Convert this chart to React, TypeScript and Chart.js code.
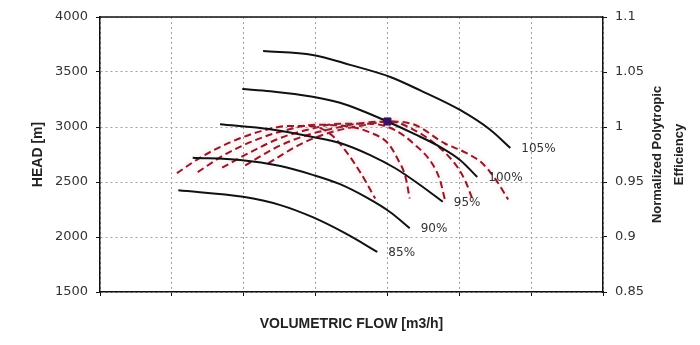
import React, { useEffect, useRef } from 'react';
import { Chart, registerables } from 'chart.js';

Chart.register(...registerables);

// ---- axis ticks ----
const flowTicks = [0, 1, 2, 3, 4, 5, 6, 7];
const headTicks = [1500, 2000, 2500, 3000, 3500, 4000];
const effTicks = [0.85, 0.9, 0.95, 1, 1.05, 1.1];

// ---- speed lines (head vs flow) ----
const speedLabels = ['85%', '90%', '95%', '100%', '105%'];

const flow85 = [1.09, 1.99, 2.51, 2.96, 3.41, 3.86];
const head85 = [2425, 2365, 2290, 2180, 2035, 1865];

const flow90 = [1.29, 1.95, 2.51, 2.96, 3.34, 3.72, 4.04, 4.31];
const head90 = [2720, 2700, 2645, 2565, 2480, 2355, 2225, 2080];

const flow95 = [1.67, 2.37, 2.96, 3.34, 3.76, 4.11, 4.45, 4.77];
const head95 = [3025, 2980, 2910, 2855, 2745, 2625, 2475, 2320];

const flow100 = [1.98, 2.37, 2.96, 3.34, 3.62, 4.0, 4.38, 4.73, 5.01, 5.25];
const head100 = [3345, 3325, 3275, 3220, 3155, 3050, 2935, 2820, 2700, 2545];

const flow105 = [2.27, 2.96, 3.48, 4.04, 4.45, 5.01, 5.43, 5.71];
const head105 = [3690, 3655, 3565, 3455, 3335, 3155, 2975, 2810];

// ---- normalized polytropic efficiency vs flow ----
const effFlow85 = [1.07, 1.39, 1.81, 2.23, 2.64, 2.92, 3.2, 3.41, 3.62, 3.83];
const eff85 = [0.958, 0.972, 0.986, 0.996, 1.001, 1.001, 0.994, 0.979, 0.959, 0.935];

const effFlow90 = [1.36, 1.74, 2.16, 2.58, 2.99, 3.41, 3.76, 4.01, 4.15, 4.25, 4.31];
const eff90 = [0.959, 0.975, 0.988, 0.997, 1.002, 1.001, 0.995, 0.985, 0.97, 0.955, 0.935];

const effFlow95 = [1.7, 2.09, 2.51, 2.92, 3.34, 3.76, 4.11, 4.38, 4.62, 4.73, 4.8];
const eff95 = [0.963, 0.977, 0.99, 0.998, 1.003, 1.003, 0.997, 0.984, 0.967, 0.952, 0.934];

const effFlow100 = [2.02, 2.44, 2.85, 3.27, 3.69, 4.04, 4.38, 4.73, 4.98, 5.09, 5.18];
const eff100 = [0.965, 0.981, 0.992, 0.999, 1.004, 1.005, 0.997, 0.981, 0.963, 0.95, 0.935];

const effFlow105 = [2.34, 2.78, 3.2, 3.62, 4.04, 4.38, 4.8, 5.08, 5.32, 5.51, 5.68];
const eff105 = [0.967, 0.984, 0.995, 1.001, 1.005, 1.002, 0.985, 0.977, 0.967, 0.952, 0.934];

// ---- design point ----
const bepFlow = [4.0];
const bepHead = [3050];

const headCurves = [
  [flow85, head85],
  [flow90, head90],
  [flow95, head95],
  [flow100, head100],
  [flow105, head105],
];
const effCurves = [
  [effFlow85, eff85],
  [effFlow90, eff90],
  [effFlow95, eff95],
  [effFlow100, eff100],
  [effFlow105, eff105],
];

const zip = (xs: number[], ys: number[]) => xs.map((x, i) => ({ x, y: ys[i] }));

const TITLE_FONT = '"Liberation Sans", Arial, sans-serif';
const TICK_FONT = '"DejaVu Sans", Verdana, sans-serif';

const decorPlugin = {
  id: 'decor',
  beforeDatasetDraw(chart: any, args: any) {
    const ds = chart.data.datasets[args.index];
    if (ds.isEff) {
      const ctx = chart.ctx;
      ctx.save();
      ctx.shadowColor = 'rgba(230, 120, 140, 0.45)';
      ctx.shadowBlur = 5;
    }
  },
  afterDatasetDraw(chart: any, args: any) {
    const ds = chart.data.datasets[args.index];
    if (ds.isEff) chart.ctx.restore();
  },
  afterDraw(chart: any) {
    const { ctx, chartArea, scales } = chart;
    ctx.save();
    // top frame line
    ctx.strokeStyle = '#111';
    ctx.lineWidth = 1.5;
    ctx.beginPath();
    ctx.moveTo(chartArea.left, chartArea.top);
    ctx.lineTo(chartArea.right, chartArea.top);
    ctx.stroke();

    // speed labels at curve ends
    ctx.fillStyle = '#333';
    ctx.font = '12px ' + TICK_FONT;
    ctx.textAlign = 'left';
    ctx.textBaseline = 'middle';
    headCurves.forEach(([xs, ys], i) => {
      const n = xs.length - 1;
      const px = scales.x.getPixelForValue(xs[n]) + 11;
      const py = scales.y.getPixelForValue(ys[n]) + 1;
      ctx.fillText(speedLabels[i], px, py);
    });

    // right axis title (two lines, reading upwards)
    ctx.fillStyle = '#222';
    ctx.font = 'bold 13px ' + TITLE_FONT;
    ctx.textAlign = 'center';
    ctx.textBaseline = 'middle';
    const cy = (chartArea.top + chartArea.bottom) / 2;
    const lines = ['Normalized Polytropic', 'Efficiency'];
    const xs = [657, 679];
    lines.forEach((t, i) => {
      ctx.save();
      ctx.translate(xs[i], cy);
      ctx.rotate(-Math.PI / 2);
      ctx.fillText(t, 0, 0);
      ctx.restore();
    });
    ctx.restore();
  },
};

export default function App() {
  const canvasRef = useRef<HTMLCanvasElement | null>(null);

  useEffect(() => {
    document.body.style.margin = '0';
    const canvas = canvasRef.current;
    if (!canvas) return;

    const datasets: any[] = [];
    effCurves.forEach(([xs, ys], i) => {
      datasets.push({
        label: 'Efficiency ' + speedLabels[i],
        data: zip(xs, ys),
        yAxisID: 'y2',
        borderColor: '#8c1c2c',
        borderWidth: 2,
        borderDash: [7, 4],
        pointRadius: 0,
        showLine: true,
        cubicInterpolationMode: 'monotone',
        fill: false,
        order: 2,
        isEff: true,
      });
    });
    headCurves.forEach(([xs, ys], i) => {
      datasets.push({
        label: 'Head ' + speedLabels[i],
        data: zip(xs, ys),
        yAxisID: 'y',
        borderColor: '#111',
        borderWidth: 2,
        pointRadius: 0,
        showLine: true,
        cubicInterpolationMode: 'monotone',
        fill: false,
        order: 1,
      });
    });
    datasets.push({
      label: 'Design point',
      data: zip(bepFlow, bepHead),
      yAxisID: 'y',
      showLine: false,
      pointStyle: 'rect',
      pointRadius: 5,
      backgroundColor: '#3a1060',
      borderColor: '#3a1060',
      borderWidth: 1,
      order: 0,
    });

    const chart = new Chart(canvas, {
      type: 'scatter',
      data: { datasets },
      options: {
        animation: false,
        responsive: false,
        devicePixelRatio: 1,
        layout: { padding: { top: 17, left: 0, right: 0, bottom: 0 } },
        plugins: {
          legend: { display: false },
          tooltip: { enabled: false },
        },
        scales: {
          x: {
            type: 'linear',
            min: 0,
            max: 7,
            afterBuildTicks: (s: any) => {
              s.ticks = flowTicks.map((v) => ({ value: v }));
            },
            afterFit: (s: any) => {
              s.height = 53;
            },
            ticks: { callback: () => '', padding: 0 },
            grid: {
              color: '#a0a0a0',
              lineWidth: 1,
              drawTicks: true,
              tickLength: 4,
              tickColor: '#111',
            },
            border: { display: true, color: '#111', width: 1.5, dash: [2, 3] },
            title: {
              display: true,
              text: 'VOLUMETRIC FLOW [m3/h]',
              color: '#222',
              font: { family: TITLE_FONT, size: 14, weight: 'bold' },
              padding: { top: 0, bottom: 12 },
            },
          },
          y: {
            type: 'linear',
            position: 'left',
            min: 1500,
            max: 4000,
            afterBuildTicks: (s: any) => {
              s.ticks = headTicks.map((v) => ({ value: v }));
            },
            afterFit: (s: any) => {
              s.width = 100;
            },
            ticks: {
              color: '#333',
              font: { family: TICK_FONT, size: 13 },
              padding: 8,
              callback: (v: any) => String(v),
            },
            grid: {
              color: '#a0a0a0',
              lineWidth: 1,
              drawTicks: true,
              tickLength: 4,
              tickColor: '#111',
            },
            border: { display: true, color: '#111', width: 1.5, dash: [2, 3] },
            title: {
              display: true,
              text: 'HEAD [m]',
              color: '#222',
              font: { family: TITLE_FONT, size: 14, weight: 'bold' },
              padding: { top: 30, bottom: 0 },
            },
          },
          y2: {
            type: 'linear',
            position: 'right',
            min: 0.85,
            max: 1.1,
            afterBuildTicks: (s: any) => {
              s.ticks = effTicks.map((v) => ({ value: v }));
            },
            afterFit: (s: any) => {
              s.width = 97;
            },
            ticks: {
              color: '#333',
              font: { family: TICK_FONT, size: 13 },
              padding: 8,
              callback: (v: any) => String(Math.round(Number(v) * 100) / 100),
            },
            grid: {
              drawOnChartArea: false,
              drawTicks: true,
              tickLength: 4,
              tickColor: '#111',
            },
            border: { display: true, color: '#111', width: 1.5 },
          },
        },
      } as any,
      plugins: [decorPlugin],
    });

    return () => {
      chart.destroy();
    };
  }, []);

  return (
    <div style={{ width: 700, height: 345, background: '#fff' }}>
      <canvas ref={canvasRef} width={700} height={345} style={{ display: 'block' }} />
    </div>
  );
}
